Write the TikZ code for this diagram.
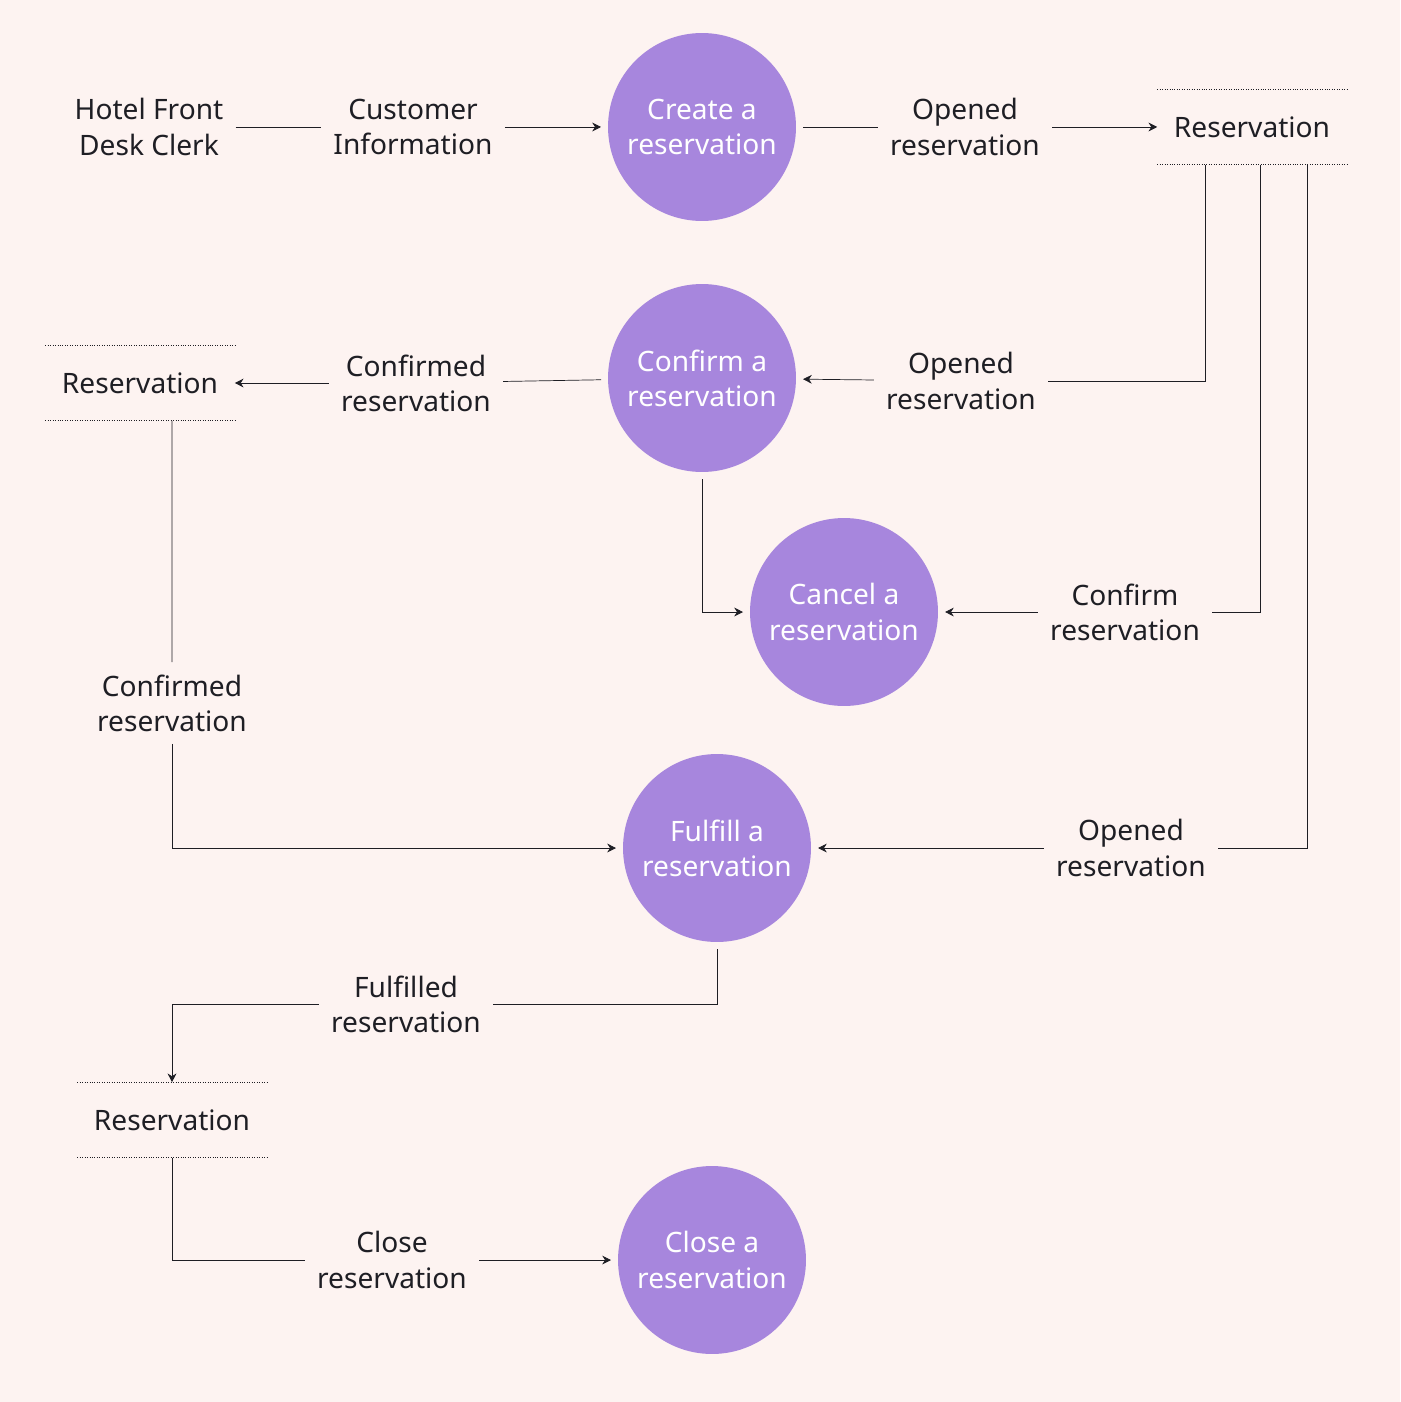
\documentclass[tikz,border=0pt]{standalone}
\usepackage{fontspec}
\setmainfont{Noto Sans}
\usetikzlibrary{arrows.meta}
\definecolor{bgpink}{HTML}{FDF3F1}
\definecolor{procpurple}{HTML}{A786DD}
\definecolor{ink}{HTML}{1E1E24}

\begin{document}
\begin{tikzpicture}[x=0.02cm,y=-0.02cm,
  font=\fontsize{16}{20}\selectfont,
  process/.style={circle, fill=procpurple, text=white, minimum size=3.76cm, inner sep=0pt, outer sep=4pt, align=center},
  label/.style={align=center, text=ink, inner sep=3pt, outer sep=4pt},
  store/.style={text=ink, minimum width=3.44cm, minimum height=1.16cm, inner sep=0pt, outer sep=5pt},
  line/.style={draw=ink, thin},
  arrow/.style={line, -{Stealth[length=5pt,width=5pt]}}]
\fill[bgpink] (0,0) rectangle (1400,1402);
\useasboundingbox (0,0) rectangle (1400,1402);

% processes
\node[process] (create) at (702,127) {Create a\\reservation};
\node[process] (confirm) at (702,378) {Confirm a\\reservation};
\node[process] (cancel) at (844,612) {Cancel a\\reservation};
\node[process] (fulfill) at (717,848) {Fulfill a\\reservation};
\node[process] (close) at (712,1260) {Close a\\reservation};

% entity and stores
\node[label] (clerk) at (149,127) {Hotel Front\\Desk Clerk};
\node[store] (res1) at (1252,127) {Reservation};
\node[store] (res2) at (140,383) {Reservation};
\node[store] (res3) at (172,1120) {Reservation};
\foreach \s in {res1,res2,res3}
  \draw[ink, densely dotted] (\s.north west) -- (\s.north east)
        (\s.south west) -- (\s.south east);

% flow labels
\node[label] (custinfo) at (413,127) {Customer\\Information};
\node[label] (opened1) at (965,127) {Opened\\reservation};
\node[label] (opened2) at (961,381) {Opened\\reservation};
\node[label] (confirmed1) at (416,383) {Confirmed\\reservation};
\node[label] (confirmres) at (1125,612) {Confirm\\reservation};
\node[label] (confirmed2) at (172,703) {Confirmed\\reservation};
\node[label] (opened3) at (1131,848) {Opened\\reservation};
\node[label] (fulfilled) at (406,1004) {Fulfilled\\reservation};
\node[label] (closeres) at (392,1260) {Close\\reservation};

% flows
\draw[line] (clerk) -- (custinfo);
\draw[arrow] (custinfo) -- (create);
\draw[line] (create) -- (opened1);
\draw[arrow] (opened1) -- (res1);

\draw[line] ([xshift=-0.94cm]res1.south) |- (opened2);
\draw[arrow] (opened2) -- (confirm);
\draw[line] ([xshift=0.16cm]res1.south) |- (confirmres);
\draw[arrow] (confirmres) -- (cancel);
\draw[line] ([xshift=1.1cm]res1.south) |- (opened3);
\draw[arrow] (opened3) -- (fulfill);

\draw[line] (confirm) -- (confirmed1);
\draw[arrow] (confirmed1) -- (res2);
\draw[arrow] (confirm) |- (cancel);

\draw[line] ([xshift=0.64cm]res2.south) -- (confirmed2);
\draw[arrow] (confirmed2) |- (fulfill);

\draw[line] (fulfill) |- (fulfilled);
\draw[arrow] (fulfilled) -| (res3);
\draw[line] (res3) |- (closeres);
\draw[arrow] (closeres) -- (close);
\end{tikzpicture}
\end{document}
